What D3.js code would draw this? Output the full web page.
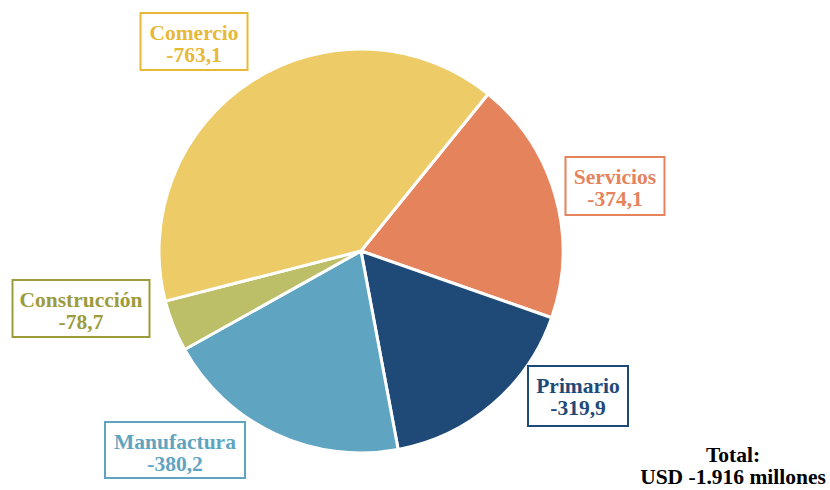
<!DOCTYPE html>
<html>
<head>
<meta charset="utf-8">
<script src="https://cdn.jsdelivr.net/npm/d3@7"></script>
<style>
  body { margin: 0; background: #fff; }
  text { font-family: "Liberation Serif", "Times New Roman", serif; font-weight: bold; }
</style>
</head>
<body>
<div id="chart"></div>
<script>
// data
const categories = ["Servicios", "Primario", "Manufactura", "Construcción", "Comercio"];
const values = [-374.1, -319.9, -380.2, -78.7, -763.1];
const sliceColors = ["#E5835D", "#1F4A78", "#5FA4C1", "#BDBF68", "#EDCB67"];
const textColors = ["#E5835D", "#1F4A78", "#5FA4C1", "#9C9C3C", "#E8B937"];
const totalLabel = ["Total:", "USD -1.916 millones"];

// label box layout (center x, top y, width, height)
const boxes = [
    {x: 615, y: 157, w: 99, h: 58},
    {x: 578, y: 366, w: 100, h: 60},
    {x: 175, y: 422, w: 140, h: 56},
    {x: 81,  y: 280, w: 137, h: 57},
    {x: 194, y: 13,  w: 107, h: 57}
];

const width = 830, height = 490;
const cx = 361, cy = 251, radius = 202;
const fontSize = 21.5;

const locale = d3.formatLocale({decimal: ",", thousands: ".", grouping: [3], currency: ["", ""], minus: "-"});
const fmt = locale.format(".1f");

const svg = d3.select("#chart")
    .append("svg")
    .attr("width", width)
    .attr("height", height);

const pie = d3.pie()
    .value(d => Math.abs(d))
    .sort(null)
    .startAngle(39 * Math.PI / 180)
    .endAngle(39 * Math.PI / 180 + 2 * Math.PI);

const arc = d3.arc().innerRadius(0).outerRadius(radius);

const g = svg.append("g").attr("transform", `translate(${cx},${cy})`);

g.selectAll("path")
    .data(pie(values))
    .join("path")
    .attr("d", arc)
    .attr("fill", (d, i) => sliceColors[i])
    .attr("stroke", "#fff")
    .attr("stroke-width", 3)
    .attr("stroke-linejoin", "round");

// labels
const labels = svg.selectAll("g.lbl")
    .data(categories)
    .join("g")
    .attr("class", "lbl");

labels.append("rect")
    .attr("x", (d, i) => boxes[i].x - boxes[i].w / 2)
    .attr("y", (d, i) => boxes[i].y)
    .attr("width", (d, i) => boxes[i].w)
    .attr("height", (d, i) => boxes[i].h)
    .attr("fill", "#fff")
    .attr("stroke", (d, i) => textColors[i])
    .attr("stroke-width", 2);

labels.append("text")
    .attr("x", (d, i) => boxes[i].x)
    .attr("y", (d, i) => boxes[i].y + 27)
    .attr("text-anchor", "middle")
    .attr("font-size", fontSize)
    .attr("fill", (d, i) => textColors[i])
    .text(d => d);

labels.append("text")
    .attr("x", (d, i) => boxes[i].x)
    .attr("y", (d, i) => boxes[i].y + 49)
    .attr("text-anchor", "middle")
    .attr("font-size", fontSize)
    .attr("fill", (d, i) => textColors[i])
    .text((d, i) => fmt(values[i]));

svg.selectAll("text.total")
    .data(totalLabel)
    .join("text")
    .attr("class", "total")
    .attr("x", 733)
    .attr("y", (d, i) => 462 + i * 22)
    .attr("text-anchor", "middle")
    .attr("font-size", fontSize)
    .attr("fill", "#000")
    .text(d => d);
</script>
</body>
</html>
